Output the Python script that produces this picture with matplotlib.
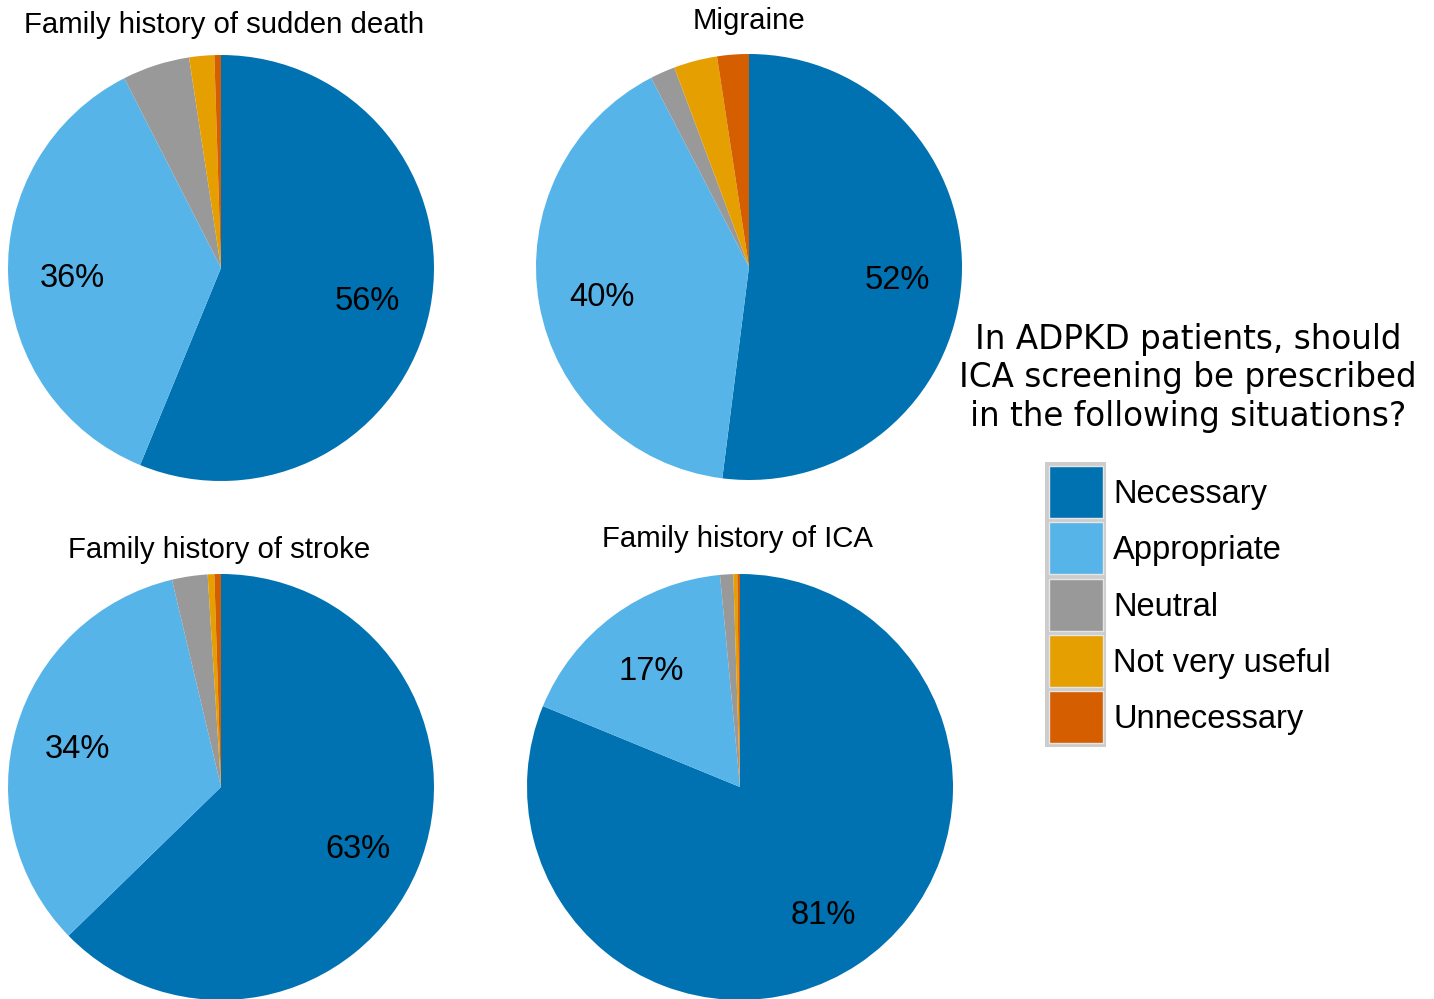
import matplotlib
matplotlib.use("Agg")
import matplotlib.pyplot as plt
from matplotlib.patches import Rectangle

categories = ["Necessary", "Appropriate", "Neutral", "Not very useful", "Unnecessary"]
colors = ["#0072B2", "#56B4E9", "#999999", "#E69F00", "#D55E00"]

titles = ["Family history of sudden death", "Migraine",
          "Family history of stroke", "Family history of ICA"]
sudden_death = [56.2, 36.3, 5.1, 1.9, 0.5]
migraine = [52.0, 40.4, 1.9, 3.3, 2.4]
stroke = [62.7, 33.6, 2.7, 0.5, 0.5]
ica = [81.2, 17.3, 1.0, 0.3, 0.2]
series = [sudden_death, migraine, stroke, ica]

question = "In ADPKD patients, should\nICA screening be prescribed\nin the following situations?"

W, H = 1434, 999
fig = plt.figure(figsize=(W / 100, H / 100), dpi=100)

# pie centers / radius in pixels (layout)
centers = [(221, 268), (749, 267), (221, 787), (740, 787)]
R = 213
title_pos = [(224, 25), (749, 21), (219, 550), (738, 539)]

sans = ["Liberation Sans", "DejaVu Sans"]

for vals, (cx, cy), t, (tx, ty) in zip(series, centers, titles, title_pos):
    ax = fig.add_axes([(cx - R) / W, 1 - (cy + R) / H, 2 * R / W, 2 * R / H])
    wedges, texts, autotexts = ax.pie(
        vals, colors=colors, startangle=90, counterclock=False,
        radius=1, pctdistance=0.7,
        autopct=lambda p: f"{p:.0f}%" if p >= 10 else "",
        wedgeprops=dict(linewidth=0),
        textprops=dict(fontsize=23.5, family=sans, color="black"))
    for at in autotexts:
        x, y = at.get_position()
        at.set_position((x, y - 0.02))
    ax.set_xlim(-1, 1)
    ax.set_ylim(-1, 1)
    ax.set_aspect("equal")
    ax.axis("off")
    fig.text(tx / W, 1 - ty / H, t, ha="center", va="center",
             fontsize=21.2, family=sans)

# question text
fig.text(1188 / W, 1 - 378 / H, question, ha="center", va="center",
         fontsize=23.5, family=["DejaVu Sans"], linespacing=1.22)

# custom legend
lax = fig.add_axes([0, 0, 1, 1])
lax.set_xlim(0, W)
lax.set_ylim(H, 0)
lax.axis("off")
lax.add_patch(Rectangle((1045, 462), 61, 285, facecolor="#cccccc", edgecolor="none"))
for i, (c, lab) in enumerate(zip(colors, categories)):
    y0 = 466 + i * 56.3
    lax.add_patch(Rectangle((1048.5, y0), 54.5, 52, facecolor=c,
                            edgecolor="#e6e6e6", linewidth=1))
    lax.text(1113, y0 + 28.5, lab, ha="left", va="center", fontsize=23.5,
             family=sans)

fig.savefig("out.png", dpi=100)
